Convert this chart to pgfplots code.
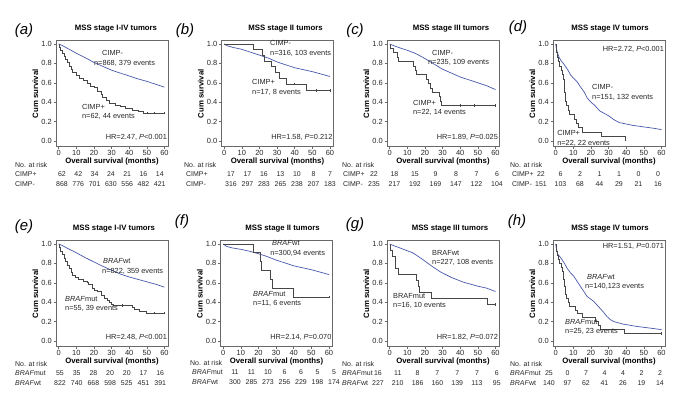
\documentclass[border=0pt]{standalone}
\usepackage{fontspec}
\setmainfont{Liberation Sans}
\usepackage{pgfplots}
\pgfplotsset{compat=1.18}

\definecolor{kmblue}{RGB}{72,88,170}
\definecolor{kmgray}{RGB}{70,70,70}
\definecolor{frame}{RGB}{105,105,105}

\pgfplotsset{km/.style={
    scale only axis, width=112bp, height=106bp,
    anchor=south west, clip=false,
    xmin=-1.5, xmax=62, ymin=-0.059, ymax=1.034,
    xtick={0,10,...,60}, ytick={0,0.2,0.4,0.6,0.8,1.0},
    yticklabel style={/pgf/number format/fixed, /pgf/number format/fixed zerofill,
        /pgf/number format/precision=1, inner sep=1.5bp},
    /pgf/number format/assume math mode=true,
    tick align=outside, xtick pos=bottom, ytick pos=left,
    major tick length=2.5bp,
    tick style={frame, line width=0.5bp},
    axis line style={frame, line width=0.6bp},
    ticklabel style={font=\fontsize{7.5}{8}\selectfont, text=black!85},
    xticklabel style={inner sep=1bp},
    xlabel={Overall survival (months)}, ylabel={Cum survival},
    label style={font=\bfseries\fontsize{7.8}{9}\selectfont},
    xlabel style={at={(axis description cs:0.5,-0.144)}, anchor=center},
    ylabel style={at={(axis description cs:-0.185,0.5)}, anchor=center},
    title style={font=\bfseries\fontsize{7.8}{9}\selectfont, inner sep=0pt,
        at={(axis description cs:0.5,1)}, anchor=south, yshift=2.3bp},
}}
\tikzset{
    tl/.style={font=\fontsize{7}{8}\selectfont, inner sep=0pt, text=black!85},
    ann/.style={font=\fontsize{7.4}{8}\selectfont, inner sep=0pt, anchor=west, text=black!85},
    plab/.style={font=\itshape\fontsize{15}{16}\selectfont, inner sep=0pt},
    cens/.style={only marks, mark=|, mark size=1.3bp, line width=0.5bp},
}

% #1 first number x, #2 step, #3 y of "No. at risk" (px from top), #4 row label x, #5 "No. at risk" x
\newcommand{\risk}[9]{%
  \node[tl,anchor=west] at ({#5*1bp},{(400-#3)*1bp}) {No. at risk};
  \node[tl,anchor=west] at ({#4*1bp},{(400-#3-9.5)*1bp}) {#6};
  \node[tl,anchor=west] at ({#4*1bp},{(400-#3-19.5)*1bp}) {#8};
  \foreach \v [count=\i from 0] in {#7}
    \node[tl] at ({(#1+#2*\i)*1bp},{(400-#3-9.5)*1bp}) {\v};
  \foreach \v [count=\i from 0] in {#9}
    \node[tl] at ({(#1+#2*\i)*1bp},{(400-#3-19.5)*1bp}) {\v};
}

\begin{document}
\begin{tikzpicture}
\path[use as bounding box] (0,0) rectangle (683bp,400bp);

% (a)
\begin{axis}[km, at={(56bp,253.3bp)}, title={MSS stage I-IV tumors}, title style={xshift=4bp}]
\addplot[kmblue, line width=0.7bp] coordinates {
 (0,1) (2,0.985) (5,0.955) (10,0.905) (15,0.86) (20,0.81) (25,0.77) (30,0.73)
 (35,0.70) (40,0.67) (45,0.64) (50,0.615) (55,0.585) (60,0.555)};
\addplot[kmgray, line width=0.7bp, const plot] coordinates {
 (0,1) (0.5,0.968) (1,0.935) (2,0.90) (3,0.87) (4,0.84) (5,0.806) (6,0.774) (7,0.742)
 (8,0.71) (10,0.677) (12,0.645) (14,0.629) (16,0.597) (18,0.565) (20,0.548) (22,0.516)
 (24,0.484) (25,0.452) (27,0.419) (29,0.387) (32,0.371) (35,0.354) (38,0.338)
 (42,0.32) (45,0.303) (48,0.29) (60,0.29)};
\addplot[kmgray, cens] coordinates {(50,0.29) (54,0.29) (60,0.29)};
\node[ann] at (axis cs:24.6,0.907) {CIMP-};
\node[ann] at (axis cs:20,0.80) {n=868, 379 events};
\node[ann] at (axis cs:13.2,0.35) {CIMP+};
\node[ann] at (axis cs:13.2,0.25) {n=62, 44 events};
\node[ann,anchor=east] at (axis cs:61.5,0.041) {HR=2.47, \textit{P}<0.001};
\end{axis}
\risk{62}{16.3}{165}{15}{15}{CIMP+}{62,42,34,24,21,16,14}{CIMP-}{868,776,701,630,556,482,421}
\node[plab] at (24bp,369bp) {(a)};

% (b)
\begin{axis}[km, at={(221.5bp,253.3bp)}, title={MSS stage II tumors}, title style={xshift=8bp}]
\addplot[kmblue, line width=0.7bp] coordinates {
 (0,1) (2,0.98) (5,0.965) (10,0.945) (15,0.915) (20,0.885) (25,0.855) (30,0.815)
 (35,0.785) (40,0.755) (45,0.735) (50,0.715) (55,0.69) (60,0.665)};
\addplot[kmgray, line width=0.7bp, const plot] coordinates {
 (0,1) (16.6,0.941) (21.7,0.882) (23,0.824) (26.6,0.765) (29,0.706) (31.4,0.647)
 (35.5,0.588) (46.8,0.52) (60,0.52)};
\addplot[kmgray, cens] coordinates {(40,0.588) (52,0.52) (60,0.52)};
\node[ann] at (axis cs:26,1.01) {CIMP-};
\node[ann] at (axis cs:26,0.907) {n=316, 103 events};
\node[ann] at (axis cs:15.8,0.61) {CIMP+};
\node[ann] at (axis cs:15.8,0.505) {n=17, 8 events};
\node[ann,anchor=east] at (axis cs:61.5,0.041) {HR=1.58, \textit{P}=0.212};
\end{axis}
\risk{231}{16.5}{165}{186}{184}{CIMP+}{17,17,16,13,10,8,7}{CIMP-}{316,297,283,265,238,207,183}
\node[plab] at (185bp,369bp) {(b)};

% (c)
\begin{axis}[km, at={(387bp,253.3bp)}, title={MSS stage III tumors}, title style={xshift=8bp}]
\addplot[kmblue, line width=0.7bp] coordinates {
 (0,1) (2,0.985) (5,0.965) (10,0.935) (15,0.90) (20,0.85) (25,0.795) (30,0.74)
 (35,0.70) (40,0.66) (45,0.63) (50,0.60) (55,0.57) (60,0.53)};
\addplot[kmgray, line width=0.7bp, const plot] coordinates {
 (0,1) (0.3,0.955) (2,0.909) (4.5,0.864) (5,0.818) (13.5,0.773) (14.5,0.727) (15,0.682)
 (21,0.636) (22,0.591) (23,0.545) (24,0.50) (28,0.455) (28.5,0.409) (29.5,0.364) (60,0.364)};
\addplot[kmgray, cens] coordinates {(40,0.364) (48,0.364) (60,0.364)};
\node[ann] at (axis cs:24,0.907) {CIMP-};
\node[ann] at (axis cs:21.7,0.815) {n=235, 109 events};
\node[ann] at (axis cs:13.2,0.39) {CIMP+};
\node[ann] at (axis cs:13.2,0.29) {n=22, 14 events};
\node[ann,anchor=east] at (axis cs:61.5,0.041) {HR=1.89, \textit{P}=0.025};
\end{axis}
\risk{374}{20.5}{165}{343}{342}{CIMP+}{22,18,15,9,8,7,6}{CIMP-}{235,217,192,169,147,122,104}
\node[plab] at (355bp,369bp) {(c)};

% (d)
\begin{axis}[km, at={(553bp,253.3bp)}, title={MSS stage IV tumors}, title style={xshift=1bp}]
\addplot[kmblue, line width=0.7bp] coordinates {
 (0,1) (0.5,0.95) (1,0.91) (2,0.86) (3,0.83) (5,0.785) (7,0.73) (8.5,0.68) (10,0.65)
 (12,0.615) (14,0.56) (16,0.51) (18,0.44) (20,0.40) (22,0.37) (25,0.31) (28,0.28)
 (30,0.26) (33,0.22) (36,0.19) (40,0.175) (44,0.16) (48,0.15) (52,0.14) (56,0.13) (60,0.117)};
\addplot[kmgray, line width=0.7bp, const plot] coordinates {
 (0,1) (0.3,0.955) (0.6,0.909) (1,0.864) (1.5,0.818) (2,0.773) (3,0.727) (4,0.682)
 (4.5,0.636) (4.8,0.591) (5,0.545) (5.2,0.50) (5.4,0.455) (5.6,0.409) (6,0.364)
 (7,0.318) (8,0.273) (10.5,0.227) (12,0.182) (13,0.136) (15,0.091) (26,0.045) (39.4,0)};
\node[ann,anchor=east] at (axis cs:61.5,0.94) {HR=2.72, \textit{P}<0.001};
\node[ann] at (axis cs:20.6,0.557) {CIMP-};
\node[ann] at (axis cs:20.6,0.454) {n=151, 132 events};
\node[ann] at (axis cs:0.8,0.08) {CIMP+};
\node[ann] at (axis cs:0.8,-0.02) {n=22, 22 events};
\end{axis}
\risk{541}{19.5}{165}{512}{510}{CIMP+}{22,6,2,1,1,0,0}{CIMP-}{151,103,68,44,29,21,16}
\node[plab] at (518bp,372bp) {(d)};

% (e)
\begin{axis}[km, at={(56bp,53.3bp)}, title={MSS stage I-IV tumors}, title style={xshift=2bp}]
\addplot[kmblue, line width=0.7bp] coordinates {
 (0,1) (2,0.985) (5,0.955) (10,0.91) (15,0.86) (20,0.815) (25,0.77) (30,0.73)
 (35,0.69) (40,0.66) (45,0.635) (50,0.61) (55,0.585) (60,0.555)};
\addplot[kmgray, line width=0.7bp, const plot] coordinates {
 (0,1) (0.5,0.964) (1,0.927) (2,0.891) (3,0.855) (4,0.818) (5,0.782) (6,0.745) (7,0.709)
 (8,0.673) (9.5,0.655) (11,0.636) (14,0.618) (16,0.60) (17,0.582) (19,0.545) (20.5,0.527)
 (22,0.509) (24,0.473) (26,0.436) (27.5,0.418) (29,0.40) (30,0.382) (31,0.364)
 (42,0.345) (43,0.327) (46,0.309) (50,0.29) (60,0.29)};
\addplot[kmgray, cens] coordinates {(36,0.364) (54,0.29) (60,0.29)};
\node[ann] at (axis cs:25.1,0.825) {\textit{BRAF}wt};
\node[ann] at (axis cs:24.6,0.72) {n=822, 359 events};
\node[ann] at (axis cs:3.6,0.43) {\textit{BRAF}mut};
\node[ann] at (axis cs:3.6,0.34) {n=55, 39 events};
\node[ann,anchor=east] at (axis cs:61.5,0.041) {HR=2.48, \textit{P}<0.001};
\end{axis}
\risk{60}{16.7}{364}{15}{15}{\textit{BRAF}mut}{55,35,28,20,20,17,16}{\textit{BRAF}wt}{822,740,668,598,525,451,391}
\node[plab] at (24bp,173bp) {(e)};

% (f)
\begin{axis}[km, at={(220.5bp,53.3bp)}, title={MSS stage II tumors}, title style={xshift=6bp}]
\addplot[kmblue, line width=0.7bp] coordinates {
 (0,1) (2,0.975) (5,0.96) (10,0.945) (15,0.925) (20,0.90) (25,0.87) (30,0.835)
 (35,0.805) (40,0.775) (45,0.755) (50,0.735) (55,0.71) (60,0.685)};
\addplot[kmgray, line width=0.7bp, const plot] coordinates {
 (0,1) (17,0.909) (21,0.818) (21.5,0.727) (27,0.636) (28,0.545) (40,0.455) (60,0.455)};
\addplot[kmgray, cens] coordinates {(60,0.455)};
\node[ann] at (axis cs:27.7,1.01) {\textit{BRAF}wt};
\node[ann] at (axis cs:26.6,0.907) {n=300,94 events};
\node[ann] at (axis cs:16.9,0.485) {\textit{BRAF}mut};
\node[ann] at (axis cs:16.9,0.39) {n=11, 6 events};
\node[ann,anchor=east] at (axis cs:61.5,0.041) {HR=2.14, \textit{P}=0.070};
\end{axis}
\risk{235}{16.5}{363}{192}{190}{\textit{BRAF}mut}{11,11,10,6,6,5,5}{\textit{BRAF}wt}{300,285,273,256,229,198,174}
\node[plab] at (182bp,178bp) {(f)};

% (g)
\begin{axis}[km, at={(387bp,53.3bp)}, title={MSS stage III tumors}, title style={xshift=7bp}]
\addplot[kmblue, line width=0.7bp] coordinates {
 (0,1) (2,0.985) (5,0.965) (10,0.93) (13,0.91) (18,0.85) (24,0.77) (29,0.71)
 (35,0.655) (42,0.605) (50,0.565) (55,0.545) (60,0.51)};
\addplot[kmgray, line width=0.7bp, const plot] coordinates {
 (0,1) (0.5,0.9375) (1.5,0.875) (3,0.8125) (3.5,0.75) (5,0.6875) (15,0.625) (16,0.5625)
 (17,0.5) (23.5,0.4375) (55.6,0.375) (60,0.375)};
\addplot[kmgray, cens] coordinates {(60,0.375)};
\node[ann] at (axis cs:24,0.907) {BRAFwt};
\node[ann] at (axis cs:24,0.815) {n=227, 108 events};
\node[ann] at (axis cs:1.9,0.46) {BRAFmut};
\node[ann] at (axis cs:1.9,0.37) {n=16, 10 events};
\node[ann,anchor=east] at (axis cs:61.5,0.041) {HR=1.82, \textit{P}=0.072};
\end{axis}
\risk{378}{19.8}{364}{342}{342}{\textit{BRAF}mut}{16,11,8,7,7,7,6}{\textit{BRAF}wt}{227,210,186,160,139,113,95}
\node[plab] at (355bp,175bp) {(g)};

% (h)
\begin{axis}[km, at={(553bp,53.3bp)}, title={MSS stage IV tumors}, title style={xshift=1bp}]
\addplot[kmblue, line width=0.7bp] coordinates {
 (0,1) (0.5,0.95) (1,0.90) (3,0.855) (5,0.80) (6.5,0.75) (8.5,0.70) (10.3,0.667) (12,0.62)
 (14,0.564) (16,0.51) (17.8,0.46) (20,0.43) (21.5,0.41) (25,0.34) (27,0.30) (29,0.254)
 (31,0.22) (33,0.20) (38,0.175) (46,0.15) (53,0.134) (60,0.117)};
\addplot[kmgray, line width=0.7bp, const plot] coordinates {
 (0,1) (0.3,0.96) (0.6,0.92) (1,0.88) (1.5,0.84) (2,0.80) (3,0.76) (3.7,0.72) (4.2,0.68)
 (4.5,0.64) (4.8,0.60) (5,0.56) (5.3,0.52) (5.6,0.48) (6,0.44) (7,0.40) (8,0.36) (11,0.32)
 (12.5,0.28) (15,0.24) (22.5,0.20) (24,0.16) (25.5,0.12) (39,0.08) (60,0.08)};
\addplot[kmgray, cens] coordinates {(60,0.08)};
\node[ann,anchor=east] at (axis cs:61.5,0.975) {HR=1.51, \textit{P}=0.071};
\node[ann] at (axis cs:17.8,0.66) {\textit{BRAF}wt};
\node[ann] at (axis cs:16.6,0.56) {n=140,123 events};
\node[ann] at (axis cs:5.3,0.20) {\textit{BRAF}mut};
\node[ann] at (axis cs:5.3,0.10) {n=25, 23 events};
\end{axis}
\risk{549}{18.5}{364}{510}{510}{\textit{BRAF}mut}{25,0,7,4,4,2,2}{\textit{BRAF}wt}{140,97,62,41,26,19,14}
\node[plab] at (517bp,178bp) {(h)};

\end{tikzpicture}
\end{document}
